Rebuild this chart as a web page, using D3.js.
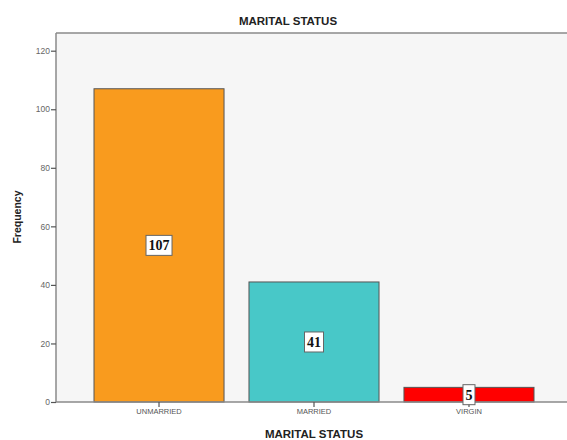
<!DOCTYPE html>
<html>
<head>
<meta charset="utf-8">
<script src="https://cdn.jsdelivr.net/npm/d3@7"></script>
<style>
  body { margin: 0; background: #fff; }
  svg { display: block; }
</style>
</head>
<body>
<div id="chart-area"></div>
<script>
// values
const categories = ["UNMARRIED", "MARRIED", "VIRGIN"];
const frequencies = [107, 41, 5];
const barColors = ["#F99B1E", "#48C8C8", "#FF0000"];
const yTicks = [0, 20, 40, 60, 80, 100, 120];

const width = 567, height = 440;
// plot frame (grey panel)
const plot = { left: 56, top: 33, right: 567, bottom: 402 };

const svg = d3.select("#chart-area")
  .append("svg")
  .attr("width", width)
  .attr("height", height);

// scales
const xScale = d3.scaleBand()
  .domain(categories)
  .range([94, 534])
  .paddingInner(0.161)
  .paddingOuter(0);

const yScale = d3.scaleLinear()
  .domain([0, 120])
  .range([plot.bottom, 50.7]);

// panel background
svg.append("rect")
  .attr("x", plot.left)
  .attr("y", plot.top)
  .attr("width", plot.right - plot.left)
  .attr("height", plot.bottom - plot.top)
  .attr("fill", "#F6F6F6");

// top border of panel
svg.append("line")
  .attr("x1", plot.left).attr("x2", plot.right)
  .attr("y1", plot.top).attr("y2", plot.top)
  .attr("stroke", "#8a8a8a").attr("stroke-width", 1.5);

// bars
svg.selectAll(".bar")
  .data(frequencies)
  .enter()
  .append("rect")
  .attr("class", "bar")
  .attr("x", (d, i) => xScale(categories[i]))
  .attr("y", d => yScale(d))
  .attr("width", xScale.bandwidth())
  .attr("height", d => yScale(0) - yScale(d))
  .attr("fill", (d, i) => barColors[i])
  .attr("stroke", "#555")
  .attr("stroke-width", 1);

// y axis
const yAxis = svg.append("g")
  .attr("transform", "translate(" + plot.left + ",0)")
  .call(d3.axisLeft(yScale).tickValues(yTicks).tickSize(5).tickSizeOuter(0));
yAxis.select(".domain")
  .attr("d", "M0," + plot.top + "V" + plot.bottom)
  .attr("stroke", "#8a8a8a").attr("stroke-width", 1.5);
yAxis.selectAll(".tick line").attr("stroke", "#555").attr("stroke-width", 1.2);
yAxis.selectAll(".tick text")
  .attr("x", -6)
  .attr("fill", "#666")
  .style("font-family", "Liberation Sans, Arial, sans-serif")
  .style("font-size", "8.5px");

// x axis
const xAxis = svg.append("g")
  .attr("transform", "translate(0," + plot.bottom + ")")
  .call(d3.axisBottom(xScale).tickSize(5).tickSizeOuter(0));
xAxis.select(".domain")
  .attr("d", "M" + plot.left + ",0H" + plot.right)
  .attr("stroke", "#8a8a8a").attr("stroke-width", 1.5);
xAxis.selectAll(".tick line").attr("stroke", "#555").attr("stroke-width", 1.2);
xAxis.selectAll(".tick text")
  .attr("y", 7)
  .attr("fill", "#555")
  .style("font-family", "Liberation Sans, Arial, sans-serif")
  .style("font-size", "7.5px");

// value labels in white boxes at mid-height
const labels = svg.selectAll(".val")
  .data(frequencies)
  .enter()
  .append("g")
  .attr("class", "val")
  .attr("transform", (d, i) =>
    "translate(" + (xScale(categories[i]) + xScale.bandwidth() / 2) + "," +
    ((yScale(d) + yScale(0)) / 2) + ")");

labels.append("text")
  .attr("text-anchor", "middle")
  .attr("dy", "0.36em")
  .attr("fill", "#111")
  .style("font-family", "Liberation Serif, Times New Roman, serif")
  .style("font-size", "14px")
  .style("font-weight", "bold")
  .text(d => d);

labels.each(function() {
  const g = d3.select(this);
  const bb = g.select("text").node().getBBox();
  g.insert("rect", "text")
    .attr("x", bb.x - 2.5)
    .attr("y", -10)
    .attr("width", bb.width + 5)
    .attr("height", 20)
    .attr("fill", "#fff")
    .attr("stroke", "#666")
    .attr("stroke-width", 1);
});

// titles
svg.append("text")
  .attr("x", 288).attr("y", 25)
  .attr("text-anchor", "middle")
  .attr("fill", "#222")
  .style("font-family", "Liberation Sans, Arial, sans-serif")
  .style("font-size", "11.5px")
  .style("font-weight", "bold")
  .text("MARITAL STATUS");

svg.append("text")
  .attr("x", 314).attr("y", 438)
  .attr("text-anchor", "middle")
  .attr("fill", "#222")
  .style("font-family", "Liberation Sans, Arial, sans-serif")
  .style("font-size", "11.5px")
  .style("font-weight", "bold")
  .text("MARITAL STATUS");

svg.append("text")
  .attr("transform", "translate(21,217) rotate(-90)")
  .attr("text-anchor", "middle")
  .attr("fill", "#222")
  .style("font-family", "Liberation Sans, Arial, sans-serif")
  .style("font-size", "10.5px")
  .style("font-weight", "bold")
  .text("Frequency");
</script>
</body>
</html>
